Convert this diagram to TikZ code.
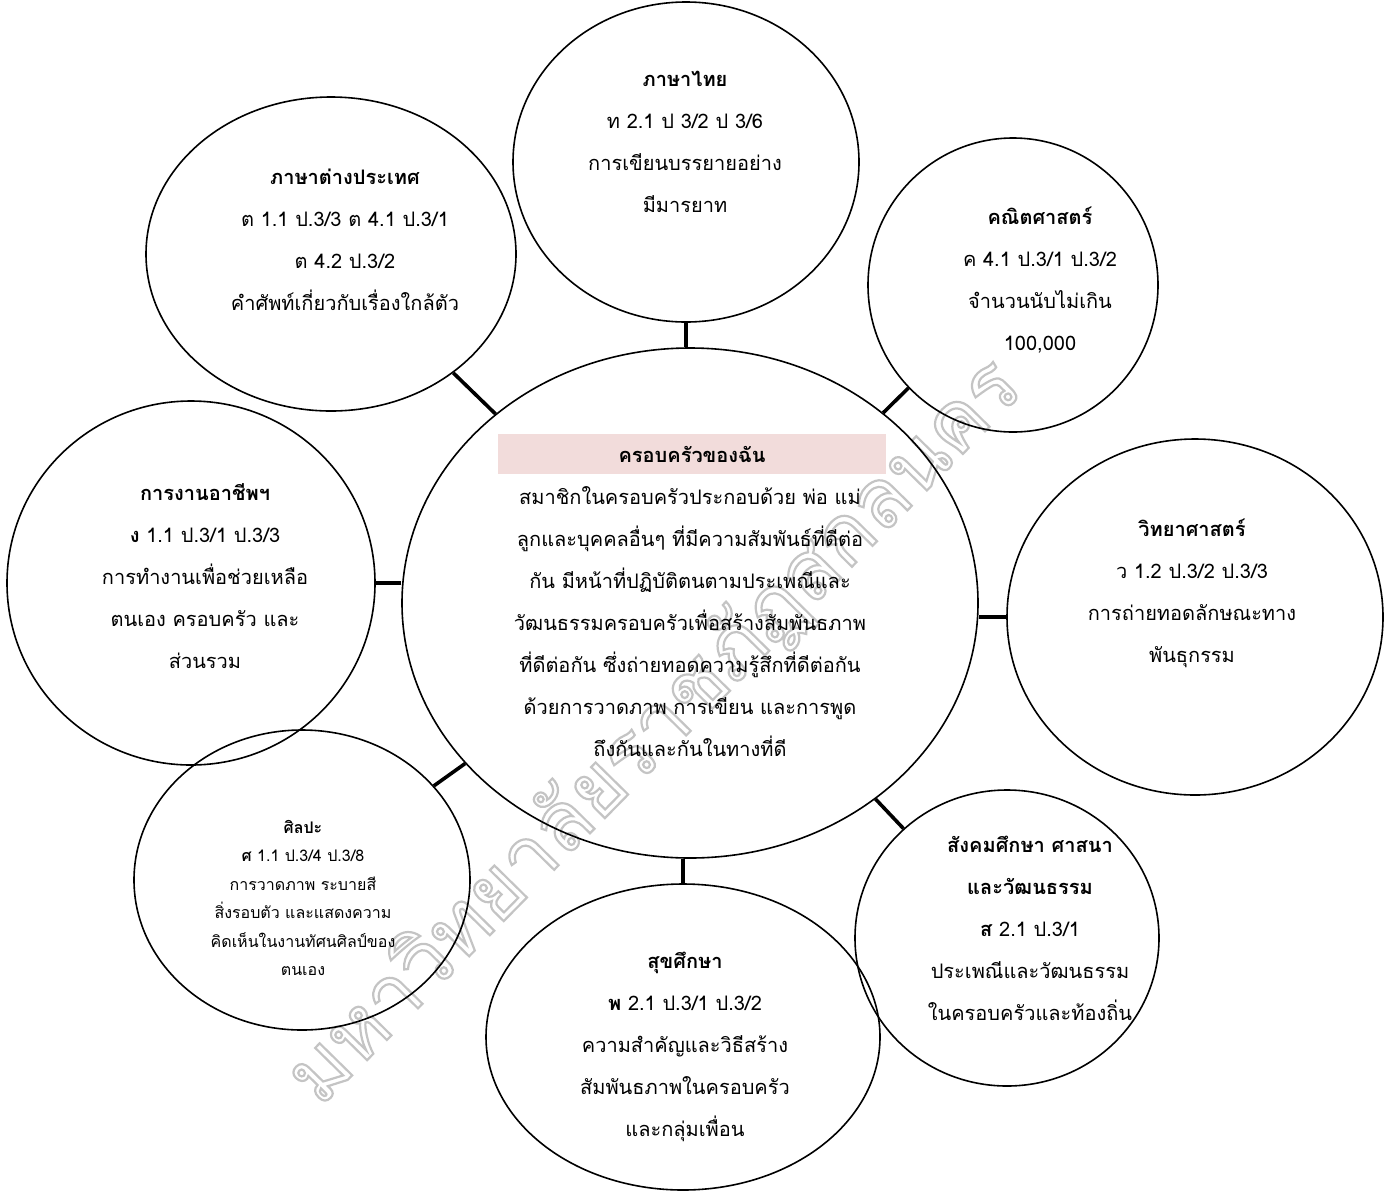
\documentclass[tikz,border=0pt]{standalone}
\usepackage{fontspec}
\setmainfont[Script=Thai]{Loma}
\usetikzlibrary{shapes.geometric}
\definecolor{pinkbox}{HTML}{F2DCDB}
\definecolor{wmgray}{HTML}{C4C4C4}
\tikzset{
  bubble/.style={draw, ellipse, line width=1.6pt, inner sep=0pt},
  link/.style={line width=3.6pt},
  txt/.style={align=center, font=\fontsize{20}{42}\selectfont, inner sep=0pt},
  smalltxt/.style={align=center, font=\fontsize{16}{28.5}\selectfont, inner sep=0pt},
}
\begin{document}
\begin{tikzpicture}[x=1pt,y=-1pt]
\useasboundingbox (0,0) rectangle (1387,1203);
% watermark (outlined letters)
\node[rotate=45.5, text=wmgray, font=\fontsize{82}{82}\selectfont, inner sep=0pt] (wm) at (655,732) {\special{pdf:literal direct 1 Tr 2.2 w}มหาวิทยาลัยราชภัฏสกลนคร\special{pdf:literal direct 0 Tr}};
% ellipses
\node[bubble, minimum width=576pt, minimum height=510pt] (c) at (690,603) {};
\node[bubble, minimum width=346pt, minimum height=320pt] (t) at (686,162) {};
\node[bubble, minimum width=370pt, minimum height=314pt] (tl) at (331,254) {};
\node[bubble, minimum width=290pt, minimum height=294pt] (tr) at (1013,285) {};
\node[bubble, minimum width=368pt, minimum height=364pt] (l) at (191,583) {};
\node[bubble, minimum width=376pt, minimum height=356pt] (r) at (1195,617) {};
\node[bubble, minimum width=336pt, minimum height=300pt] (bl) at (302,880) {};
\node[bubble, minimum width=394pt, minimum height=306pt] (b) at (683,1037) {};
\node[bubble, minimum width=304pt, minimum height=296pt] (br) at (1007,938) {};
% connectors
\draw[link] (t.south) -- (t.south |- c.north);
\draw[link] (b.north) -- (b.north |- c.south);
\draw[link] (l.east) -- (l.east -| c.west);
\draw[link] (r.west) -- (r.west -| c.east);
\draw[link] (tl) -- (c);
\draw[link] (tr) -- (c);
\draw[link] (bl) -- (c);
\draw[link] (br) -- (c);
% centre title band
\node[fill=pinkbox, minimum width=388pt, minimum height=40pt, inner sep=0pt] (band) at (692,454) {};
\node[txt] (ctitle) at (band.center) {\textbf{ครอบครัวของฉัน}};
\node[txt] (ctext) at (690,622) {สมาชิกในครอบครัวประกอบด้วย พ่อ แม่\\
ลูกและบุคคลอื่นๆ ที่มีความสัมพันธ์ที่ดีต่อ\\
กัน มีหน้าที่ปฏิบัติตนตามประเพณีและ\\
วัฒนธรรมครอบครัวเพื่อสร้างสัมพันธภาพ\\
ที่ดีต่อกัน ซึ่งถ่ายทอดความรู้สึกที่ดีต่อกัน\\
ด้วยการวาดภาพ การเขียน และการพูด\\
ถึงกันและกันในทางที่ดี};
% satellite texts
\node[txt] (ttext) at (685,142) {\textbf{ภาษาไทย}\\ ท 2.1 ป 3/2 ป 3/6\\ การเขียนบรรยายอย่าง\\ มีมารยาท};
\node[txt] (tltext) at (345,240) {\textbf{ภาษาต่างประเทศ}\\ ต 1.1 ป.3/3 ต 4.1 ป.3/1\\ ต 4.2 ป.3/2\\ คำศัพท์เกี่ยวกับเรื่องใกล้ตัว};
\node[txt] (trtext) at (1040,280) {\textbf{คณิตศาสตร์}\\ ค 4.1 ป.3/1 ป.3/2\\ จำนวนนับไม่เกิน\\ 100,000};
\node[txt] (ltext) at (205,576) {\textbf{การงานอาชีพฯ}\\ \textbf{ง} 1.1 ป.3/1 ป.3/3\\ การทำงานเพื่อช่วยเหลือ\\ ตนเอง ครอบครัว และ\\ ส่วนรวม};
\node[txt] (rtext) at (1192,593) {\textbf{วิทยาศาสตร์}\\ ว 1.2 ป.3/2 ป.3/3\\ การถ่ายทอดลักษณะทาง\\ พันธุกรรม};
\node[smalltxt] (bltext) at (303,898) {\textbf{ศิลปะ}\\ \textbf{ศ} 1.1 ป.3/4 ป.3/8\\ การวาดภาพ ระบายสี\\ สิ่งรอบตัว และแสดงความ\\ คิดเห็นในงานทัศนศิลป์ของ\\ ตนเอง};
\node[txt] (btext) at (685,1047) {\textbf{สุขศึกษา}\\ \textbf{พ} 2.1 ป.3/1 ป.3/2\\ ความสำคัญและวิธีสร้าง\\ สัมพันธภาพในครอบครัว\\ และกลุ่มเพื่อน};
\node[txt] (brtext) at (1030,928) {\textbf{สังคมศึกษา ศาสนา}\\ \textbf{และวัฒนธรรม}\\ \textbf{ส} 2.1 ป.3/1\\ ประเพณีและวัฒนธรรม\\ ในครอบครัวและท้องถิ่น};
\end{tikzpicture}
\end{document}
